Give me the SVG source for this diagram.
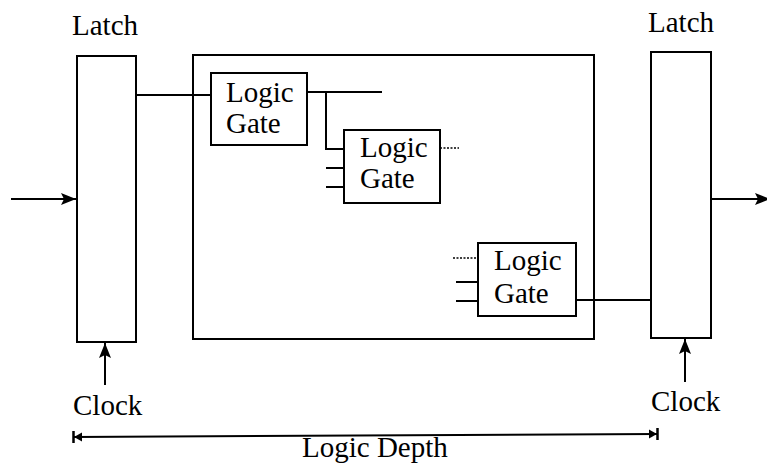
<svg xmlns="http://www.w3.org/2000/svg" width="767" height="472" viewBox="0 0 767 472">
  <defs>
    <style>
      .box { fill: #fff; stroke: #000; stroke-width: 2; }
      .wire { fill: none; stroke: #000; stroke-width: 2; }
      .dot { fill: none; stroke: #000; stroke-width: 1.5; stroke-dasharray: 2 1.5; }
      text { font-size: 29px; fill: #000; }
    </style>
    <marker id="arrow" viewBox="0 0 15 12" refX="15" refY="6" markerWidth="15" markerHeight="12" markerUnits="userSpaceOnUse" orient="auto">
      <path d="M0,0 L15,6 L0,12 L3,6 Z" fill="#000"/>
    </marker>
    <marker id="barArrow" viewBox="0 0 12 12" refX="11" refY="6" markerWidth="12" markerHeight="12" markerUnits="userSpaceOnUse" orient="auto-start-reverse">
      <path d="M2,1.5 L10,6 L2,10.5 Z" fill="#000"/>
      <path d="M10.5,0 V12" stroke="#000" stroke-width="2.5"/>
    </marker>
  </defs>

  <rect width="767" height="472" fill="#fff"/>

  <!-- combinational block -->
  <g id="logic-block">
    <rect class="box" x="193" y="55" width="401" height="284"/>
  </g>

  <!-- connectors -->
  <g id="connectors">
    <line class="wire" x1="11" y1="199" x2="76" y2="199" marker-end="url(#arrow)"/>
    <line class="wire" x1="136" y1="95" x2="211" y2="95"/>
    <line class="wire" x1="307" y1="92" x2="382" y2="92"/>
    <polyline class="wire" points="326,92 326,149 344,149"/>
    <line class="wire" x1="326" y1="168" x2="344" y2="168"/>
    <line class="wire" x1="326" y1="187" x2="344" y2="187"/>
    <line class="dot" x1="440" y1="148" x2="459" y2="148"/>
    <line class="dot" x1="453" y1="258" x2="478" y2="258"/>
    <line class="wire" x1="456" y1="282" x2="478" y2="282"/>
    <line class="wire" x1="456" y1="301" x2="478" y2="301"/>
    <line class="wire" x1="576" y1="300" x2="651" y2="300"/>
    <line class="wire" x1="711" y1="199" x2="770" y2="199" marker-end="url(#arrow)"/>
    <line class="wire" x1="105" y1="385" x2="105" y2="343" marker-end="url(#arrow)"/>
    <line class="wire" x1="685" y1="382" x2="685" y2="339" marker-end="url(#arrow)"/>
    <line class="wire" x1="73" y1="437" x2="658" y2="434" marker-start="url(#barArrow)" marker-end="url(#barArrow)"/>
  </g>

  <g font-family="Liberation Serif, Tinos, Times New Roman, DejaVu Serif, serif">
    <g id="latch-in">
      <rect class="box" x="77" y="56" width="59" height="286"/>
      <text x="72" y="35">Latch</text>
      <text x="73" y="415">Clock</text>
    </g>

    <g id="latch-out">
      <rect class="box" x="651" y="52" width="60" height="286"/>
      <text x="648" y="32">Latch</text>
      <text x="651" y="411">Clock</text>
    </g>

    <g id="gate-1">
      <rect class="box" x="211" y="73" width="96" height="72"/>
      <text x="226" y="102">Logic</text>
      <text x="226" y="133">Gate</text>
    </g>

    <g id="gate-2">
      <rect class="box" x="344" y="130" width="96" height="73"/>
      <text x="360" y="157">Logic</text>
      <text x="360" y="188">Gate</text>
    </g>

    <g id="gate-3">
      <rect class="box" x="478" y="243" width="98" height="73"/>
      <text x="494" y="270">Logic</text>
      <text x="494" y="303">Gate</text>
    </g>

    <g id="depth-label">
      <text x="302" y="457">Logic Depth</text>
    </g>
  </g>
</svg>
